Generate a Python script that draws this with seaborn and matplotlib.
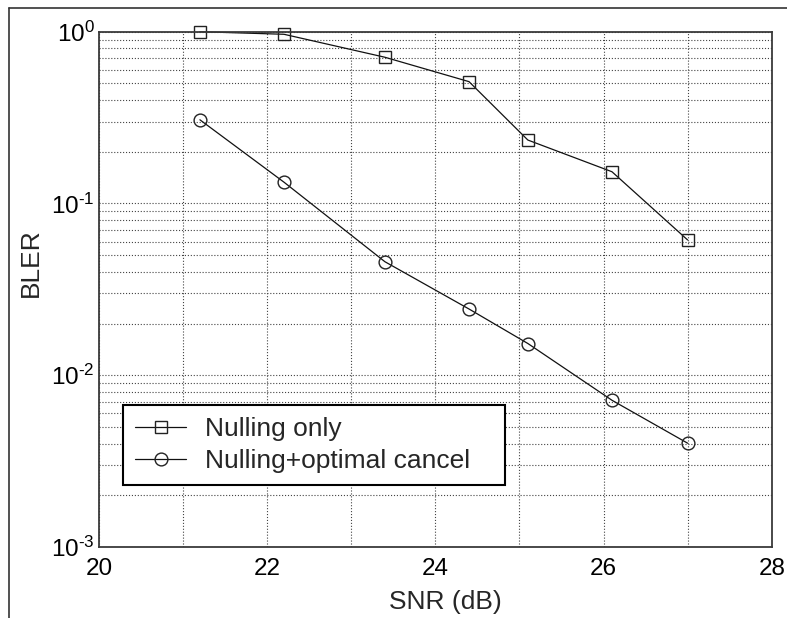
import matplotlib
matplotlib.use("Agg")
import matplotlib.pyplot as plt
from matplotlib.lines import Line2D
from matplotlib.ticker import FixedLocator, LogLocator, NullFormatter, FuncFormatter
import seaborn as sns
import pandas as pd
import numpy as np

snr = [21.2, 22.2, 23.4, 24.4, 25.1, 26.1, 27.0]
bler_nulling = [1.0, 0.966, 0.71, 0.512, 0.234, 0.153, 0.0613]
bler_cancel = [0.307, 0.133, 0.0458, 0.0243, 0.0153, 0.00715, 0.00402]
labels = ["Nulling only", "Nulling+optimal cancel"]
xticks = [20, 22, 24, 26, 28]

sns.set_style("white")
plt.rcParams["font.family"] = ["Liberation Sans", "DejaVu Sans"]
plt.rcParams["mathtext.fontset"] = "custom"
plt.rcParams["mathtext.rm"] = "Liberation Sans"
plt.rcParams["mathtext.it"] = "Liberation Sans"
plt.rcParams["mathtext.default"] = "regular"

fig = plt.figure(figsize=(7.87, 6.18), dpi=100)
fig.patch.set_facecolor("white")
ax = fig.add_axes([0.1258, 0.1149, 0.9806 - 0.1258, 0.9487 - 0.1149])

df1 = pd.DataFrame({"SNR": snr, "BLER": bler_nulling})
df2 = pd.DataFrame({"SNR": snr, "BLER": bler_cancel})
common = dict(color="#111111", linewidth=0.9, markersize=9.2,
              markerfacecolor="none", markeredgecolor="#222222",
              markeredgewidth=1.0, clip_on=False)
sns.lineplot(data=df1, x="SNR", y="BLER", marker="s", ax=ax, label=labels[0], **common)
sns.lineplot(data=df2, x="SNR", y="BLER", marker="o", ax=ax, label=labels[1], **common)

ax.set_yscale("log")
ax.set_xlim(20, 28)
ax.set_ylim(1e-3, 1)

ax.xaxis.set_major_locator(FixedLocator(xticks))
ax.xaxis.set_minor_locator(FixedLocator(np.arange(20, 29, 1)))
ax.yaxis.set_major_locator(LogLocator(base=10, numticks=10))
ax.yaxis.set_minor_locator(LogLocator(base=10, subs=np.arange(2, 10), numticks=20))
ax.yaxis.set_minor_formatter(NullFormatter())


def _fmt(v, pos):
    e = int(round(np.log10(v)))
    if e < 0:
        return r"$10^{\text{-}%d}$" % (-e)
    return r"$10^{%d}$" % e


ax.yaxis.set_major_formatter(FuncFormatter(_fmt))

ax.grid(True, which="both", axis="both", linestyle=":", color="#444444", linewidth=0.8)
ax.tick_params(axis="both", which="both", direction="in", length=3, width=0.6,
               colors="#333333", labelcolor="black", labelsize=17.5)
ax.tick_params(axis="x", pad=8)
ax.tick_params(axis="y", pad=3)
ax.tick_params(axis="both", which="minor", length=2)
for sp in ax.spines.values():
    sp.set_color("#3a3a3a")
    sp.set_linewidth(1.3)

ax.set_xlabel("SNR (dB)", fontsize=19)
ax.set_ylabel("BLER", fontsize=19)
ax.xaxis.set_label_coords(0.515, -0.0834)
ax.yaxis.set_label_coords(-0.083, 0.551)

leg = ax.legend(loc="lower left", bbox_to_anchor=(0.0357, 0.121, 0.568, 0.17),
                mode="expand", borderaxespad=0,
                fontsize=19, frameon=True, fancybox=False, handlelength=1.95,
                handletextpad=0.7, borderpad=0.45, labelspacing=0.3, numpoints=1)
leg.get_frame().set_edgecolor("black")
leg.get_frame().set_linewidth(1.5)
leg.get_frame().set_alpha(1)

# outer partial frame (left and top lines)
fig.add_artist(Line2D([9 / 787, 9 / 787], [0, 1 - 8 / 618], transform=fig.transFigure,
                      color="#333333", linewidth=1.2))
fig.add_artist(Line2D([9 / 787, 1], [1 - 8 / 618, 1 - 8 / 618], transform=fig.transFigure,
                      color="#333333", linewidth=1.2))

fig.savefig("out.png", dpi=100, facecolor="white")
